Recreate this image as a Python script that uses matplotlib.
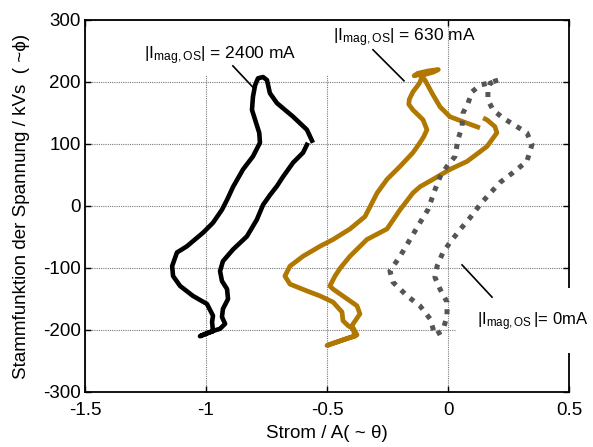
import matplotlib
matplotlib.use("Agg")
import matplotlib.pyplot as plt
from matplotlib.patches import Rectangle

plt.rcParams['font.family'] = ['Liberation Sans', 'DejaVu Sans']
plt.rcParams['mathtext.fontset'] = 'custom'
plt.rcParams['mathtext.rm'] = 'Liberation Sans'
plt.rcParams['mathtext.it'] = 'Liberation Sans'

# ---- data ----
black_x = [-0.558, -0.583, -0.64, -0.707, -0.736, -0.748, -0.764, -0.785, -0.797, -0.806,
           -0.81, -0.797, -0.78, -0.777, -0.806, -0.847, -0.888, -0.913, -0.934, -0.971,
           -1.012, -1.079, -1.12, -1.14, -1.136, -1.107, -1.054, -0.996, -0.971, -0.975,
           -0.971, -1.025, -0.99, -0.942, -0.921, -0.934, -0.93, -0.909, -0.913, -0.934,
           -0.942, -0.93, -0.888, -0.831, -0.79, -0.764, -0.735, -0.707, -0.682, -0.64,
           -0.599, -0.579]
black_y = [102, 123, 144, 166, 182, 203, 208, 206, 195, 176,
           155, 139, 118, 102, 80, 59, 31, 10, -6, -27,
           -43, -65, -75, -97, -113, -129, -145, -158, -177, -187,
           -202, -210, -204, -198, -190, -179, -166, -150, -134, -121,
           -105, -89, -70, -49, -22, 2, 18, 32, 47, 70,
           86, 102]

gold_x = [0.132, 0.062, 0.008, -0.033, -0.066, -0.095, -0.115, -0.14, -0.125, -0.08,
          -0.04, -0.06, -0.105, -0.118, -0.145, -0.16, -0.162, -0.145, -0.103, -0.087,
          -0.1, -0.116, -0.145, -0.198, -0.252, -0.293, -0.314, -0.343, -0.405, -0.475,
          -0.529, -0.599, -0.653, -0.674, -0.653, -0.583, -0.529, -0.475, -0.438, -0.434,
          -0.413, -0.393, -0.384, -0.417, -0.5, -0.48, -0.376, -0.397, -0.364, -0.376,
          -0.475, -0.488, -0.467, -0.445, -0.405, -0.335, -0.252, -0.198, -0.145, -0.116,
          -0.062, 0.008, 0.079, 0.161, 0.202, 0.194, 0.161, 0.145]
gold_y = [126, 136, 144, 160, 182, 203, 212, 210, 214, 218,
          220, 216, 211, 198, 184, 172, 164, 155, 139, 123,
          112, 102, 86, 64, 43, 21, 5, -17, -37, -54,
          -65, -81, -97, -113, -126, -137, -145, -155, -171, -185,
          -193, -198, -210, -214, -225, -222, -208, -193, -174, -161,
          -134, -129, -113, -100, -81, -54, -37, -6, 21, 31,
          43, 59, 72, 96, 118, 128, 139, 142]

gray_x = [0.207, 0.165, 0.132, 0.099, 0.083, 0.062, 0.058, 0.041, 0.029, -0.004,
          -0.033, -0.054, -0.083, -0.116, -0.157, -0.198, -0.24, -0.227, -0.169, -0.116,
          -0.074, -0.054, -0.021, -0.004, -0.004, -0.033, -0.054, -0.045, -0.021, 0.008,
          0.05, 0.091, 0.132, 0.161, 0.215, 0.269, 0.326, 0.347, 0.326, 0.285,
          0.227, 0.186, 0.165, 0.165, 0.174, 0.207]
gray_y = [203, 198, 195, 184, 166, 150, 128, 107, 80, 64,
          47, 26, -6, -27, -54, -81, -105, -123, -145, -161,
          -182, -208, -201, -177, -155, -134, -115, -97, -75, -59,
          -38, -19, 2, 15, 38, 54, 72, 99, 118, 128,
          142, 155, 171, 187, 198, 203]

x_ticks = [-1.5, -1.0, -0.5, 0.0, 0.5]
x_ticklabels = ['-1.5', '-1', '-0.5', '0', '0.5']
y_ticks = [-300, -200, -100, 0, 100, 200, 300]
y_ticklabels = ['-300', '-200', '-100', '0', '100', '200', '300']

label_2400 = r'$|\mathrm{I}_{\mathrm{mag,OS}}|$ = 2400 mA'
label_630 = r'$|\mathrm{I}_{\mathrm{mag,OS}}|$ = 630 mA'
label_0 = r'$|\mathrm{I}_{\mathrm{mag,OS}}\,|$= 0mA'

# ---- figure ----
fig = plt.figure(figsize=(5.93, 4.47), dpi=100)
ax = fig.add_axes([85/593, 1 - 392/447, 484/593, 372/447])

ax.set_xlim(-1.5, 0.5)
ax.set_ylim(-300, 300)
ax.set_xticks(x_ticks)
ax.set_xticklabels(x_ticklabels)
ax.set_yticks(y_ticks)
ax.set_yticklabels(y_ticklabels)
ax.tick_params(direction='in', length=4, width=1, labelsize=13.5,
               top=True, right=True, pad=3, colors='black')
ax.tick_params(axis='x', pad=7.5)
ax.grid(True, color='#7a7a7a', linestyle=(0, (1, 1)), linewidth=0.8)
for s in ax.spines.values():
    s.set_linewidth(1.3)
    s.set_color('black')

# white boxes of the labels (covering grid / spine)
ax.add_patch(Rectangle((-1.45, 211), 1.35, 88, facecolor='white', edgecolor='none', zorder=2))
ax.add_patch(Rectangle((0.033, -237), 0.6, 105, facecolor='white', edgecolor='none',
                       zorder=3, clip_on=False))

ax.plot(black_x, black_y, color='black', linewidth=3.3, zorder=4,
        solid_joinstyle='round', solid_capstyle='butt')
ax.plot(gold_x, gold_y, color='#b07800', linewidth=3.4, zorder=4,
        solid_joinstyle='round', solid_capstyle='butt')
ax.plot(gray_x, gray_y, color='#555555', linewidth=3.6, linestyle=(0, (1, 1.4)),
        zorder=4, dash_capstyle='butt')

# annotations
ax.text(-1.256, 243, label_2400, fontsize=12.5, ha='left', va='center', zorder=5)
ax.plot([-0.889, -0.80], [226, 189], color='black', linewidth=1.2, zorder=5)
ax.text(-0.475, 271, label_630, fontsize=12.5, ha='left', va='center', zorder=5)
ax.plot([-0.310, -0.182], [252, 202], color='black', linewidth=1.2, zorder=5)
ax.text(0.12, -187, label_0, fontsize=12, ha='left', va='center', zorder=6, clip_on=False)
ax.plot([0.058, 0.182], [-95, -147], color='black', linewidth=1.2, zorder=6)

ax.set_xlabel('Strom / A( ~ θ)', fontsize=13.5, labelpad=4)
ax.set_ylabel('Stammfunktion der Spannung / kVs  ( ~ϕ)', fontsize=13.5, labelpad=9)

fig.savefig('out.png', dpi=100)
